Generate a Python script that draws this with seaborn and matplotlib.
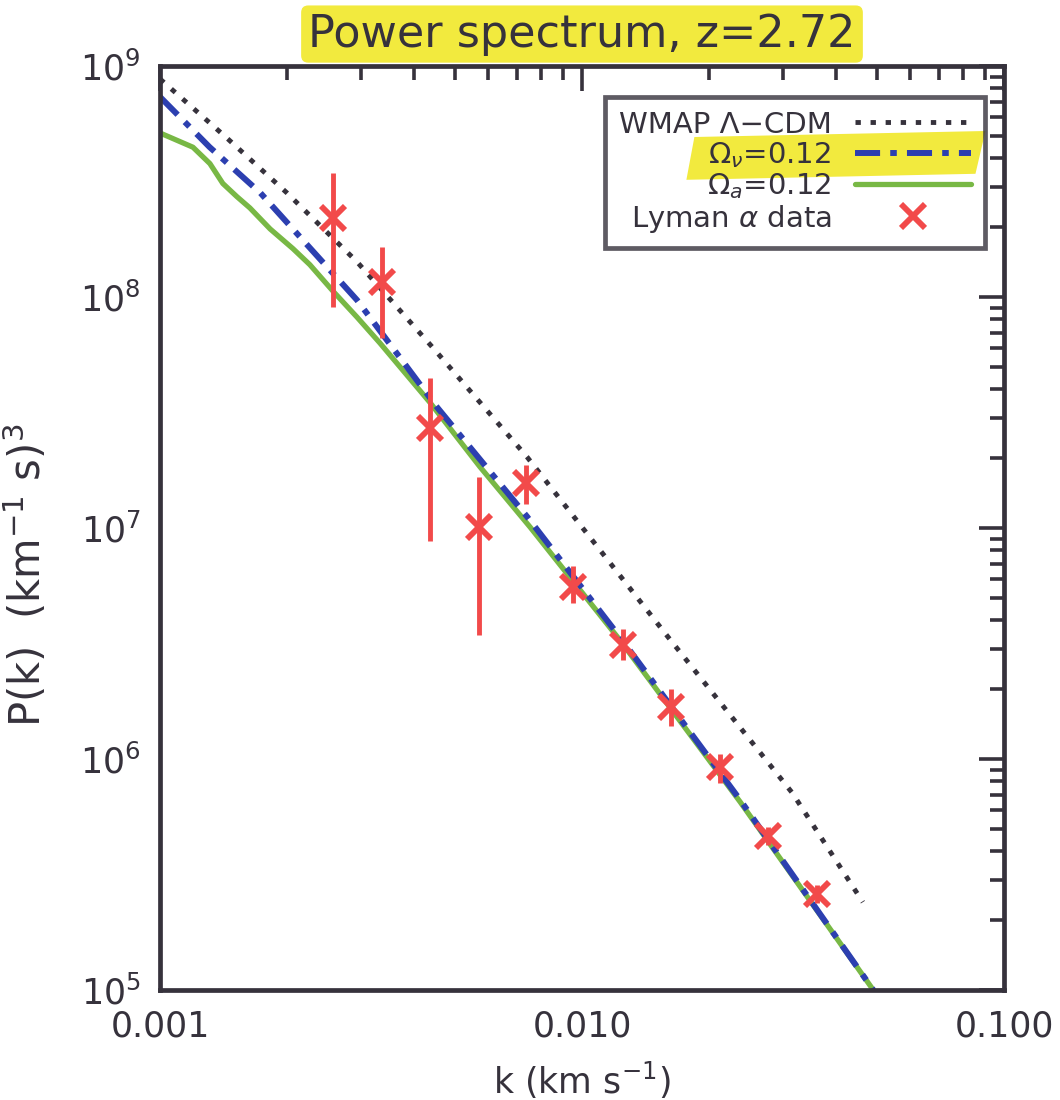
import numpy as np
import matplotlib
matplotlib.use("Agg")
import matplotlib.pyplot as plt
from matplotlib.lines import Line2D
from matplotlib.patches import Polygon
from matplotlib.transforms import IdentityTransform
from matplotlib.ticker import LogLocator, NullFormatter, FixedLocator
import seaborn as sns

# --- model power spectra, z = 2.72 ---
k_wmap = [0.001, 0.00144, 0.0020, 0.00293, 0.00444, 0.00741, 0.0160, 0.0315, 0.0463]
P_wmap = [8.79e8, 4.88e8, 2.82e8, 1.42e8, 6.01e7, 2.03e7, 3.37e6, 7.13e5, 2.40e5]

k_nu = [0.001, 0.00131, 0.00173, 0.00226, 0.00293, 0.00453, 0.00741, 0.0123, 0.0237, 0.049]
P_nu = [7.35e8, 4.46e8, 2.82e8, 1.64e8, 9.70e7, 3.34e7, 1.12e7, 3.37e6, 6.65e5, 1.0e5]

k_a = [0.001, 0.001197, 0.001313, 0.001409, 0.001521, 0.001633, 0.001824, 0.002065,
       0.002265, 0.00257, 0.00293, 0.00332, 0.00437, 0.00573, 0.00753, 0.0123, 0.0237, 0.049]
P_a = [5.13e8, 4.45e8, 3.78e8, 3.10e8, 2.72e8, 2.43e8, 1.97e8, 1.62e8,
       1.38e8, 1.06e8, 8.18e7, 6.32e7, 3.48e7, 1.84e7, 1.01e7, 3.27e6, 6.52e5, 1.0e5]

# --- Lyman alpha forest measurements ---
k_data = [0.00257, 0.00336, 0.00437, 0.00570, 0.00736, 0.00953, 0.0125, 0.01626, 0.02123, 0.0276, 0.0361]
P_data = [2.20e8, 1.16e8, 2.71e7, 1.01e7, 1.57e7, 5.56e6, 3.12e6, 1.68e6, 9.23e5, 4.64e5, 2.60e5]
P_hi = [3.44e8, 1.65e8, 4.46e7, 1.66e7, 1.87e7, 6.84e6, 3.66e6, 2.01e6, 1.05e6, 5.08e5, 2.85e5]
P_lo = [9.06e7, 6.65e7, 8.79e6, 3.44e6, 1.27e7, 4.73e6, 2.68e6, 1.39e6, 7.87e5, 4.25e5, 2.38e5]

labels = ["WMAP \u039b\u2212CDM", r"$\Omega_\nu$=0.12", r"$\Omega_a$=0.12", r"Lyman $\alpha$ data"]
xtick_vals = [0.001, 0.01, 0.1]
xtick_text = ["0.001", "0.010", "0.100"]

sns.set_theme(style="white")
plt.rcParams['font.family'] = ['DejaVu Sans']

ink = '#36323c'
blue = '#2c3fb0'
green = '#78b845'
red = '#f24a4a'
yellow = '#f2ea3e'

fig = plt.figure(figsize=(10.6, 11), dpi=100)
ax = fig.add_axes([160 / 1060, 110 / 1100, 844 / 1060, 924 / 1100])

dot_ls = (0, (1.1, 2.0))
dashdot_ls = (0, (4.2, 1.7, 1.1, 1.7))

sns.lineplot(x=k_wmap, y=P_wmap, ax=ax, color=ink, lw=3.5, linestyle=dot_ls,
             sort=False, estimator=None)
sns.lineplot(x=k_a, y=P_a, ax=ax, color=green, lw=3.8, sort=False, estimator=None)
sns.lineplot(x=k_nu, y=P_nu, ax=ax, color=blue, lw=4.3, linestyle=dashdot_ls,
             sort=False, estimator=None)

P_data_arr = np.array(P_data)
yerr = [P_data_arr - np.array(P_lo), np.array(P_hi) - P_data_arr]
ax.errorbar(k_data, P_data, yerr=yerr, fmt='none', ecolor=red, elinewidth=3.5,
            capsize=0, zorder=6)
ax.plot(k_data, P_data, ls='none', marker='x', ms=17, mew=4.2, color=red, zorder=7)

ax.set_xscale('log')
ax.set_yscale('log')
ax.set_xlim(1e-3, 1e-1)
ax.set_ylim(1e5, 1e9)
ax.xaxis.set_major_locator(FixedLocator(xtick_vals))
ax.set_xticklabels(xtick_text)
ax.xaxis.set_minor_locator(LogLocator(base=10, subs=np.arange(2, 10)))
ax.yaxis.set_minor_locator(LogLocator(base=10, subs=np.arange(2, 10)))
ax.xaxis.set_minor_formatter(NullFormatter())
ax.yaxis.set_minor_formatter(NullFormatter())

ax.tick_params(which='both', direction='in', top=True, right=True, color=ink, width=2.6)
ax.tick_params(which='major', length=18, labelsize=25, labelcolor=ink, pad=14)
ax.tick_params(which='minor', length=10)
for s in ax.spines.values():
    s.set_linewidth(3.4)
    s.set_color(ink)

ax.set_title("Power spectrum, z=2.72", fontsize=32, color=ink, pad=14,
             bbox=dict(boxstyle='round,pad=0.16', fc=yellow, ec='none'))
ax.set_xlabel(r"k (km s$^{-1}$)", fontsize=25, color=ink, labelpad=12)
ax.set_ylabel(r"P(k)  (km$^{-1}$ s)$^3$", fontsize=30, color=ink)
ax.yaxis.set_label_coords(-0.13, 0.449)

handles = [
    Line2D([], [], color=ink, lw=3.5, linestyle=dot_ls),
    Line2D([], [], color=blue, lw=4.3, linestyle=dashdot_ls),
    Line2D([], [], color=green, lw=3.8),
    Line2D([], [], ls='none', marker='x', ms=17, mew=4.2, color=red),
]
leg = ax.legend(handles, labels, loc='upper right', bbox_to_anchor=(0.977, 0.966),
                markerfirst=False, fontsize=21, frameon=True, fancybox=False,
                handlelength=4.0, handletextpad=0.8, labelspacing=0.05,
                borderpad=0.45, borderaxespad=0)
frame = leg.get_frame()
frame.set_facecolor('none')
frame.set_edgecolor(ink)
frame.set_linewidth(3.4)
for t in leg.get_texts():
    t.set_color(ink)
leg.set_zorder(10)

# highlighter stroke behind the second legend row
fig.canvas.draw()
r = fig.canvas.get_renderer()
tb = leg.get_texts()[1].get_window_extent(r)
lb = leg.get_lines()[1].get_window_extent(r)
x0, x1 = tb.x0 - 22, lb.x1 + 14
y0, y1 = tb.y0 - 6, tb.y1 + 5
hl = Polygon([(x0, y0 - 4), (x1 - 10, y0 + 2), (x1, y1 + 4), (x0 + 8, y1 - 2)],
             closed=True, transform=IdentityTransform(), fc=yellow, ec='none', zorder=9)
ax.add_artist(hl)

fig.savefig("out.png", dpi=100, facecolor='white')
